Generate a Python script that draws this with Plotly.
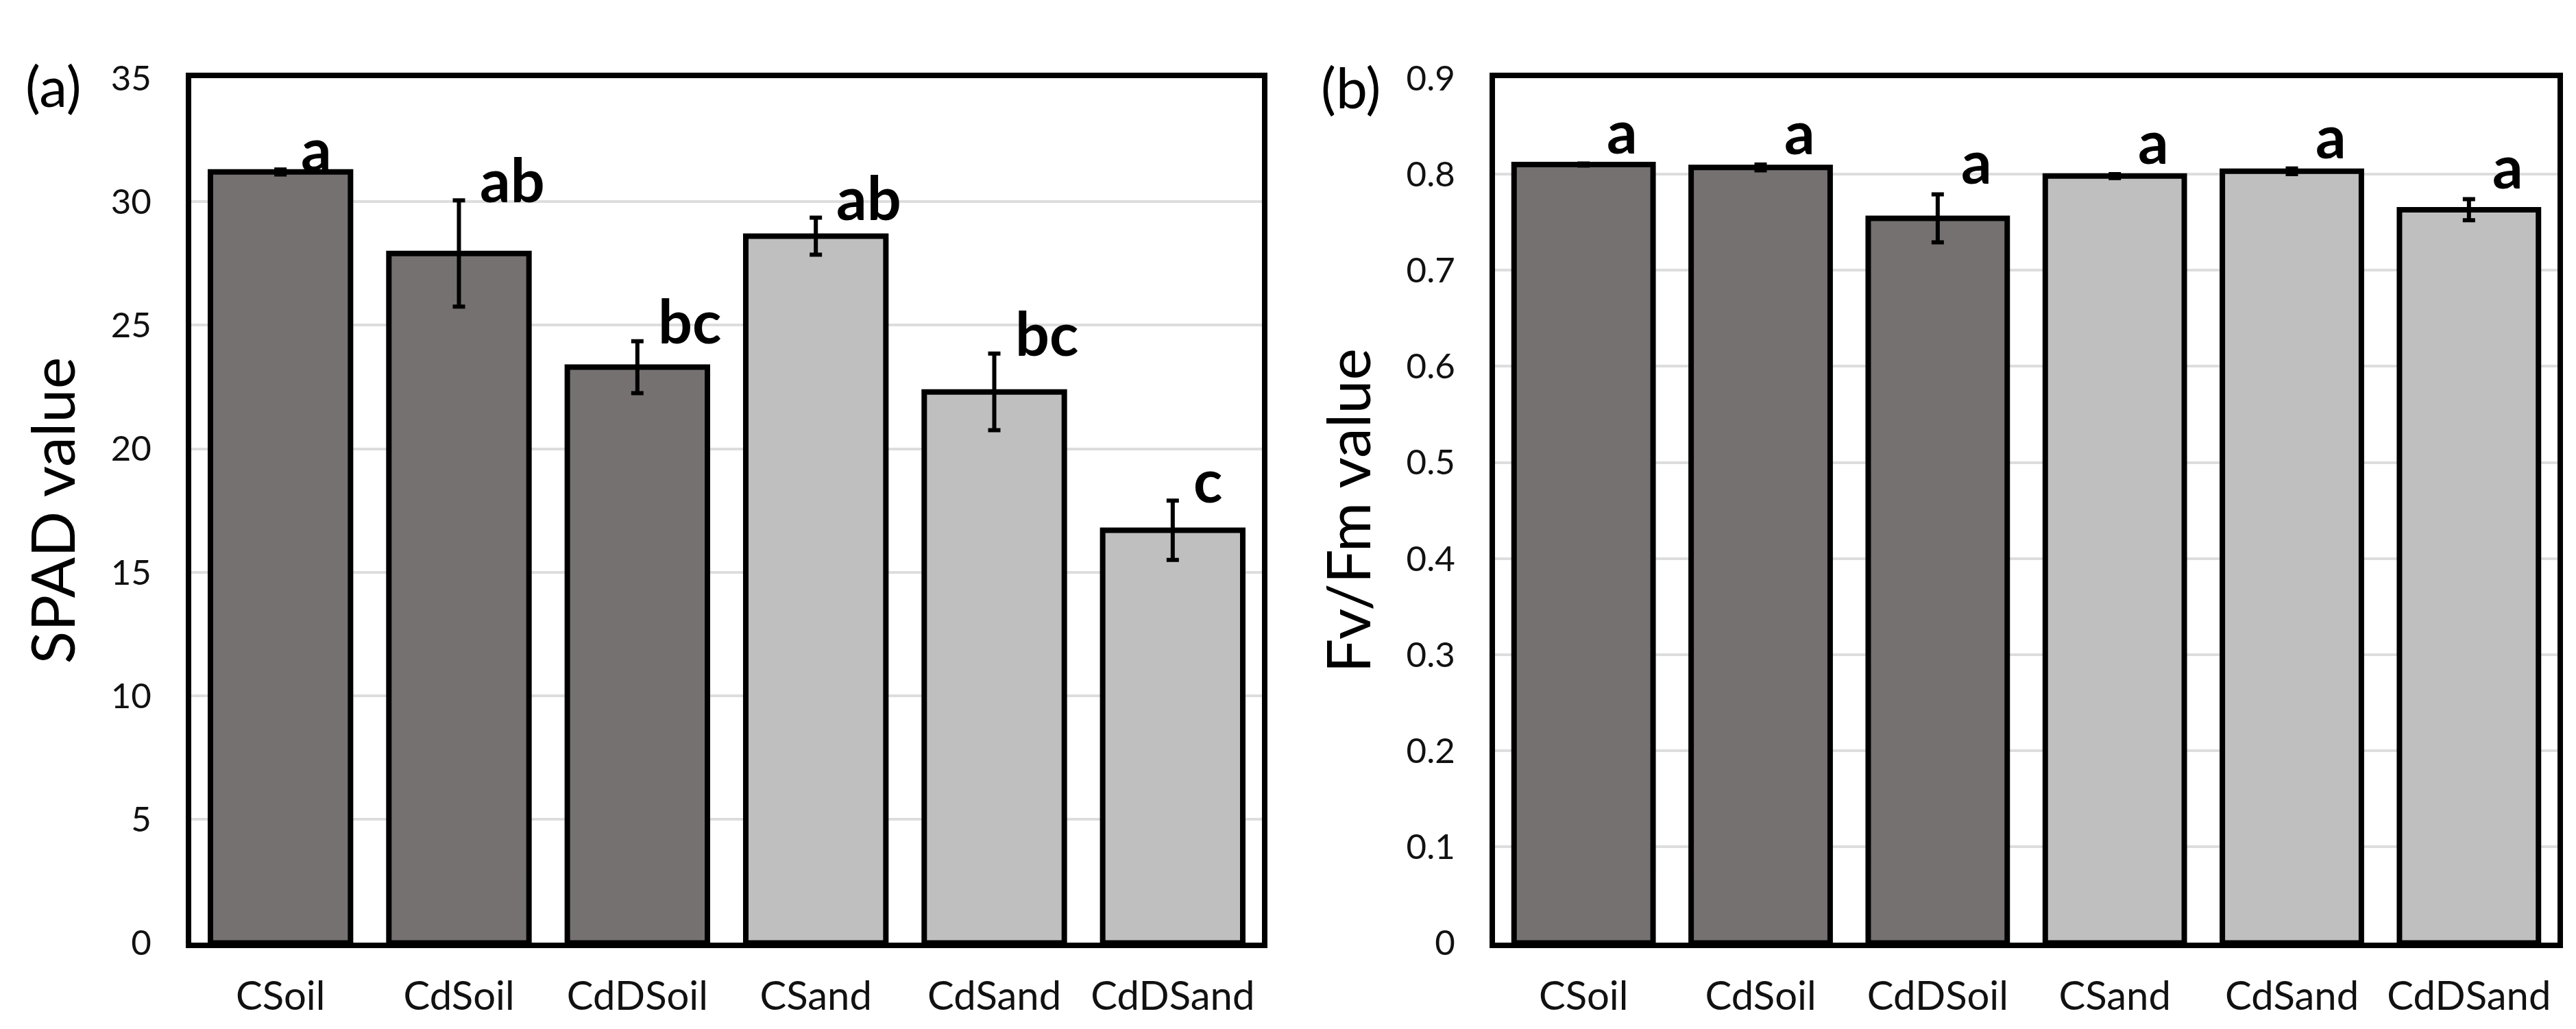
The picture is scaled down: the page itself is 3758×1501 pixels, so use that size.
import plotly.graph_objects as go

categories = ["CSoil", "CdSoil", "CdDSoil", "CSand", "CdSand", "CdDSand"]

spad_values = [31.2, 27.9, 23.3, 28.6, 22.3, 16.7]
spad_errors = [0.1, 2.15, 1.05, 0.75, 1.55, 1.2]
spad_letters = ["a", "ab", "bc", "ab", "bc", "c"]

fvfm_values = [0.810, 0.807, 0.754, 0.798, 0.803, 0.763]
fvfm_errors = [0.001, 0.003, 0.025, 0.002, 0.003, 0.011]
fvfm_letters = ["a", "a", "a", "a", "a", "a"]

DARK = "#767171"
LIGHT = "#BFBFBF"
bar_colors = [DARK, DARK, DARK, LIGHT, LIGHT, LIGHT]
FONT = "Lato, 'Open Sans', sans-serif"

fig = go.Figure()

def add_bars(vals, errs, xa, ya):
    fig.add_trace(go.Bar(
        x=categories, y=vals, xaxis=xa, yaxis=ya,
        marker=dict(color=bar_colors, line=dict(color="black", width=8)),
        error_y=dict(type="data", array=errs, visible=True,
                     color="black", thickness=6, width=9),
        showlegend=False,
    ))

add_bars(spad_values, spad_errors, "x", "y")
add_bars(fvfm_values, fvfm_errors, "x2", "y2")

annotations = []
for c, v, e, t in zip(categories, spad_values, spad_errors, spad_letters):
    annotations.append(dict(x=c, y=v + e, xref="x", yref="y", text=t,
                            showarrow=False, xanchor="left", yanchor="bottom",
                            xshift=28, yshift=-24,
                            font=dict(family=FONT, size=88, color="black", weight="bold")))
for c, v, e, t in zip(categories, fvfm_values, fvfm_errors, fvfm_letters):
    annotations.append(dict(x=c, y=v + e, xref="x2", yref="y2", text=t,
                            showarrow=False, xanchor="left", yanchor="bottom",
                            xshift=32, yshift=-6,
                            font=dict(family=FONT, size=88, color="black", weight="bold")))

annotations.append(dict(x=70 / 3758, y=1 - 88 / 1501, xref="paper", yref="paper",
                        text="(a)", showarrow=False, xanchor="center", yanchor="middle",
                        font=dict(family=FONT, size=82, color="black")))
annotations.append(dict(x=1963 / 3758, y=1 - 90 / 1501, xref="paper", yref="paper",
                        text="(b)", showarrow=False, xanchor="center", yanchor="middle",
                        font=dict(family=FONT, size=82, color="black")))

xaxis_common = dict(
    showline=True, linecolor="black", linewidth=8, mirror=True,
    showgrid=False, ticks="", ticklabelstandoff=20,
    tickfont=dict(family=FONT, size=58, color="#111111"),
    zeroline=False,
)
yaxis_common = dict(
    showline=True, linecolor="black", linewidth=8, mirror=True,
    showgrid=True, gridcolor="#DDDDDD", gridwidth=4,
    ticks="", ticklabelstandoff=40,
    tickfont=dict(family=FONT, size=51, color="#111111"),
    zeroline=False,
)

fig.update_layout(
    width=3758, height=1501,
    margin=dict(l=0, r=0, t=0, b=0),
    paper_bgcolor="white", plot_bgcolor="white",
    bargap=0.215,
    xaxis=dict(domain=[271 / 3758, 1833 / 3758], anchor="y", **xaxis_common),
    yaxis=dict(domain=[1 - 1392 / 1501, 1 - 77 / 1501], anchor="x",
               range=[0, 35], dtick=5,
               title=dict(text="SPAD value", standoff=26,
                          font=dict(family=FONT, size=88, color="black")),
               **yaxis_common),
    xaxis2=dict(domain=[2173 / 3758, 3723 / 3758], anchor="y2", **xaxis_common),
    yaxis2=dict(domain=[1 - 1392 / 1501, 1 - 77 / 1501], anchor="x2",
                range=[0, 0.9], dtick=0.1,
                title=dict(text="Fv/Fm value", standoff=26,
                           font=dict(family=FONT, size=88, color="black")),
                **yaxis_common),
    annotations=annotations,
)

fig.write_html("out.html")
